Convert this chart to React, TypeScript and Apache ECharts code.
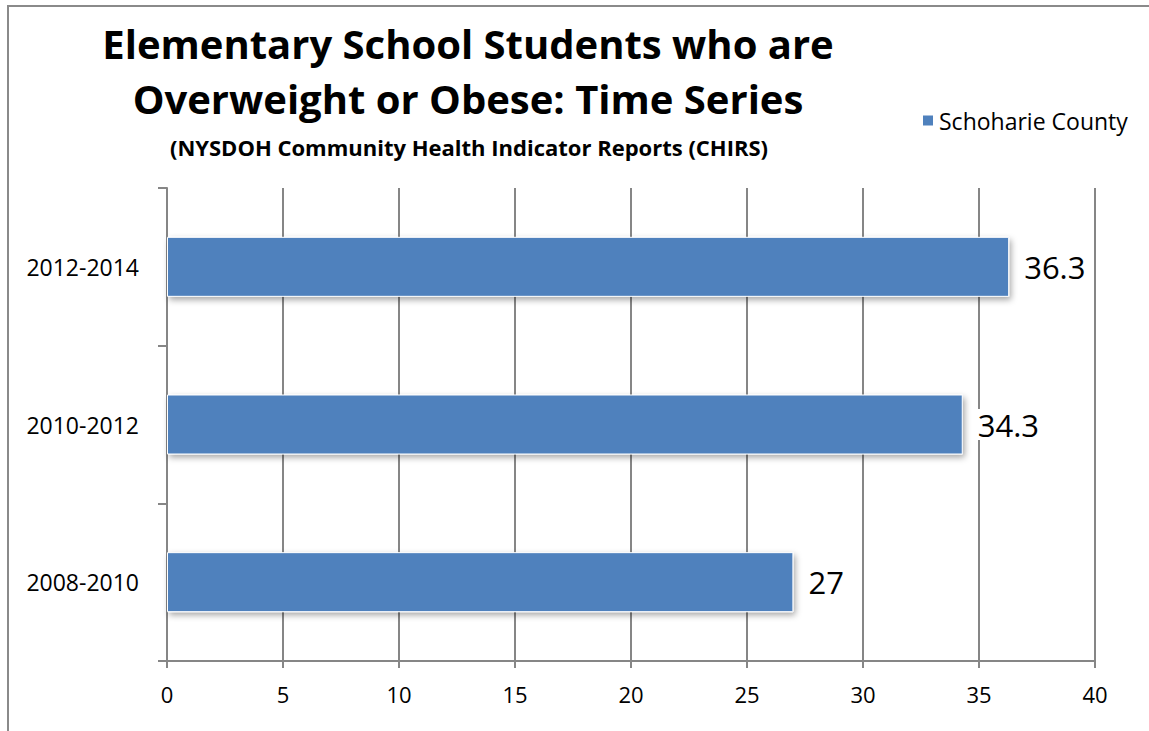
import React, { useEffect, useRef } from "react";
import * as echarts from "echarts";

const categories = ["2008-2010", "2010-2012", "2012-2014"];
const values = [27, 34.3, 36.3];
const seriesName = "Schoharie County";
const titleLine1 = "Elementary School Students who are";
const titleLine2 = "Overweight or Obese: Time Series";
const subtitle = "(NYSDOH Community Health Indicator Reports (CHIRS)";

const FONT = "'Open Sans', Lato, sans-serif";

export default function App() {
  const ref = useRef<HTMLDivElement>(null);
  useEffect(() => {
    if (!ref.current) return;
    const chart = echarts.init(ref.current, null, { renderer: "svg" });
    chart.setOption({
      animation: false,
      backgroundColor: "#fff",
      textStyle: { fontFamily: FONT },
      title: [
        {
          text: titleLine1,
          left: 463,
          top: 18,
          textAlign: "center",
          textStyle: { fontSize: 40, fontWeight: "bold", color: "#000", fontFamily: FONT },
        },
        {
          text: titleLine2,
          left: 463,
          top: 73,
          textAlign: "center",
          textStyle: { fontSize: 40, fontWeight: "bold", color: "#000", fontFamily: FONT },
        },
        {
          text: subtitle,
          left: 464,
          top: 131,
          textAlign: "center",
          textStyle: { fontSize: 22, fontWeight: "bold", color: "#000", fontFamily: FONT },
        },
      ],
      legend: {
        data: [seriesName],
        left: 916,
        top: 104,
        icon: "rect",
        itemWidth: 12,
        itemHeight: 12,
        itemGap: 6,
        textStyle: { fontSize: 23, color: "#000", fontFamily: FONT },
      },
      graphic: [
        {
          type: "rect",
          shape: { x: 8, y: 6, width: 1300, height: 900 },
          style: { fill: "none", stroke: "#8a8a8a", lineWidth: 2 },
          silent: true,
        },
      ],
      grid: { left: 167, right: 54, top: 188, bottom: 70, containLabel: false },
      xAxis: {
        type: "value",
        min: 0,
        max: 40,
        interval: 5,
        axisLine: { show: true, lineStyle: { color: "#868686", width: 2 } },
        axisTick: { show: true, length: 7, lineStyle: { color: "#868686", width: 2 } },
        splitLine: { show: true, lineStyle: { color: "#868686", width: 2 } },
        axisLabel: { fontSize: 22, color: "#000", margin: 22, fontFamily: FONT },
      },
      yAxis: {
        type: "category",
        data: categories,
        axisLine: { show: true, lineStyle: { color: "#868686", width: 2 } },
        axisTick: { show: true, length: 9, alignWithLabel: false, lineStyle: { color: "#868686", width: 2 } },
        axisLabel: { fontSize: 23, color: "#000", margin: 28, fontFamily: FONT },
      },
      series: [
        {
          name: seriesName,
          type: "bar",
          data: values,
          barWidth: 60,
          itemStyle: {
            color: "#4F81BD",
            borderColor: "#ffffff",
            borderWidth: 1,
            shadowBlur: 6,
            shadowColor: "rgba(0,0,0,0.35)",
            shadowOffsetX: 2,
            shadowOffsetY: 3,
          },
          label: {
            show: true,
            position: "right",
            distance: 12,
            fontSize: 31,
            color: "#000",
            fontFamily: FONT,
            backgroundColor: "#fff",
            padding: [0, 3, 0, 3],
          },
        },
      ],
    });
    return () => chart.dispose();
  }, []);
  return (
    <div
      ref={ref}
      style={{ position: "absolute", left: 0, top: 0, width: 1149, height: 731 }}
    />
  );
}
